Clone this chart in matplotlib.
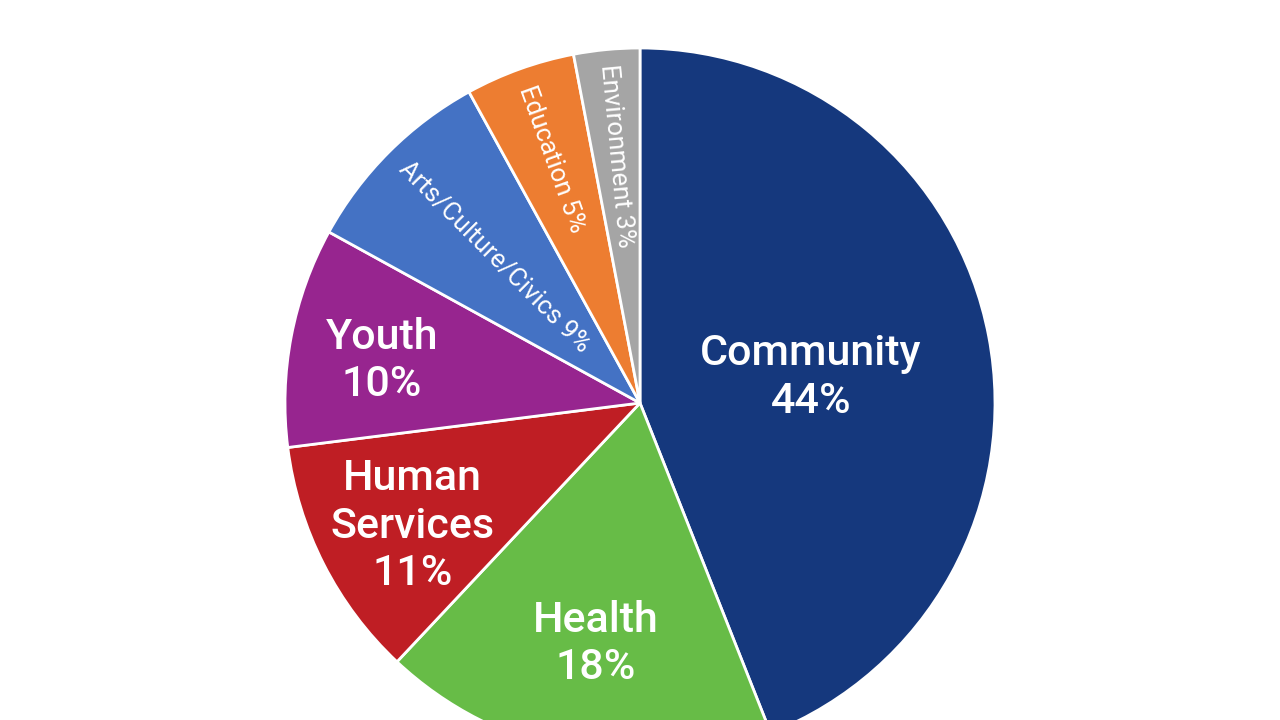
import numpy as np
import matplotlib
matplotlib.use('Agg')
import matplotlib.pyplot as plt

categories = ['Community', 'Health', 'Human\nServices', 'Youth', 'Arts/Culture/Civics', 'Education', 'Environment']
shares = [44, 18, 11, 10, 9, 5, 3]
colors = ['#15387D', '#67BC47', '#BF1E24', '#97258F', '#4472C4', '#ED7D31', '#A5A5A5']

# label placement: fraction of radius, radial (rotated) or not
label_dist = [0.49, 0.67, 0.72, 0.74, 0.58, 0.73, 0.70]
radial = [False, False, False, False, True, True, True]

plt.rcParams['font.family'] = ['Roboto', 'DejaVu Sans']

fig = plt.figure(figsize=(12.8, 7.2), dpi=100)
ax = fig.add_axes([0, 0, 1, 1])

wedges, _ = ax.pie(shares, colors=colors, startangle=90, counterclock=False,
                   radius=1.0, wedgeprops=dict(edgecolor='white', linewidth=2))

for w, cat, val, d, rad in zip(wedges, categories, shares, label_dist, radial):
    mid = np.deg2rad((w.theta1 + w.theta2) / 2)
    x, y = d * np.cos(mid), d * np.sin(mid)
    if rad:
        rot = np.rad2deg(mid) - 180
        ax.text(x, y, '{} {}%'.format(cat, val), rotation=rot, rotation_mode='anchor',
                ha='center', va='center', color='white', fontsize=18.5)
    else:
        # nudge down a bit, the big two-line labels sit a little low in the original
        ax.text(x, y - 0.02, '{}\n{}%'.format(cat, val), ha='center', va='center',
                color='white', fontsize=31, fontweight='medium', linespacing=1.2)

ax.set_xlim(-640 / 355, 640 / 355)
ax.set_ylim(-317 / 355, 403 / 355)
ax.set_aspect('equal')
ax.axis('off')

fig.savefig('out.png', dpi=100, facecolor='white')
